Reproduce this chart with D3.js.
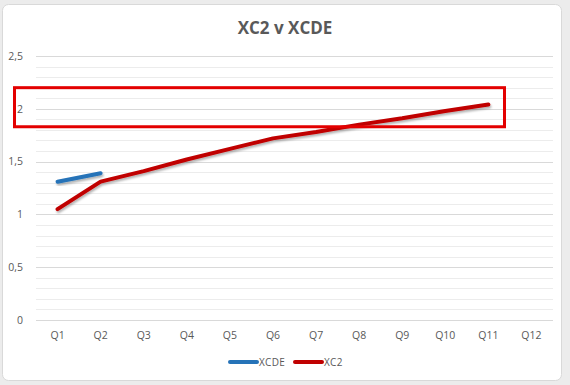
<!DOCTYPE html>
<html>
<head>
<meta charset="utf-8">
<script src="https://cdn.jsdelivr.net/npm/d3@7"></script>
<style>
  body { margin: 0; background: #ececec; }
  svg { display: block; }
  text { font-family: "Open Sans", "DejaVu Sans", sans-serif; fill: #595959; }
</style>
</head>
<body>
<script>
var categories = ["Q1","Q2","Q3","Q4","Q5","Q6","Q7","Q8","Q9","Q10","Q11","Q12"];
var xcde = [1.31, 1.39, null, null, null, null, null, null, null, null, null, null];
var xc2 = [1.05, 1.31, 1.41, 1.52, 1.62, 1.72, 1.78, 1.85, 1.91, 1.98, 2.04, null];
var yTicks = [0, 0.5, 1, 1.5, 2, 2.5];
var highlight = [1.83, 2.2]; // value band marked by the red box

var width = 570, height = 385,
    margin = {top: 56, right: 17, bottom: 65, left: 36};

var svg = d3.select("body").append("svg")
    .attr("width", width)
    .attr("height", height);

var defs = svg.append("defs");
var f = defs.append("filter").attr("id", "shadow")
    .attr("x", "-10%").attr("y", "-50%").attr("width", "120%").attr("height", "200%");
f.append("feDropShadow").attr("dx", 1).attr("dy", 2).attr("stdDeviation", 1.2)
    .attr("flood-color", "#000").attr("flood-opacity", 0.3);

// card
svg.append("rect")
    .attr("x", 2.5).attr("y", 4.5)
    .attr("width", 559).attr("height", 376)
    .attr("rx", 6)
    .attr("fill", "#fff")
    .attr("stroke", "#d9d9d9");

var x = d3.scaleBand()
    .domain(categories)
    .range([margin.left, width - margin.right]);

var y = d3.scaleLinear()
    .domain([0, 2.5])
    .range([height - margin.bottom, margin.top]);

// minor grid
svg.append("g").selectAll("line")
    .data(d3.range(0, 26).map(function(i) { return i / 10; }))
  .enter().append("line")
    .attr("x1", margin.left).attr("x2", width - margin.right)
    .attr("y1", function(d) { return Math.round(y(d)) + 0.5; })
    .attr("y2", function(d) { return Math.round(y(d)) + 0.5; })
    .attr("stroke", "#ececec");

// major grid
svg.append("g").selectAll("line")
    .data(yTicks)
  .enter().append("line")
    .attr("x1", margin.left).attr("x2", width - margin.right)
    .attr("y1", function(d) { return Math.round(y(d)) + 0.5; })
    .attr("y2", function(d) { return Math.round(y(d)) + 0.5; })
    .attr("stroke", "#d9d9d9");

var fmt = function(d) { return String(d).replace(".", ","); };

var yAxis = svg.append("g")
    .attr("transform", "translate(" + (margin.left - 10) + ",0)")
    .call(d3.axisLeft(y).tickValues(yTicks).tickFormat(fmt).tickSize(0));
yAxis.select(".domain").remove();
yAxis.selectAll("text").style("font-size", "10.5px").attr("fill", "#595959");

var xAxis = svg.append("g")
    .attr("transform", "translate(0," + (height - margin.bottom + 9) + ")")
    .call(d3.axisBottom(x).tickSize(0));
xAxis.select(".domain").remove();
xAxis.selectAll("text").style("font-size", "10.5px").attr("fill", "#595959");

var line = d3.line()
    .defined(function(d) { return d != null; })
    .x(function(d, i) { return x(categories[i]) + x.bandwidth() / 2; })
    .y(function(d) { return y(d); });

var series = [
  {name: "XCDE", values: xcde, color: "#2673b8"},
  {name: "XC2", values: xc2, color: "#c00000"}
];

svg.append("g").selectAll("path")
    .data(series)
  .enter().append("path")
    .attr("d", function(d) { return line(d.values); })
    .attr("fill", "none")
    .attr("stroke", function(d) { return d.color; })
    .attr("stroke-width", 4)
    .attr("stroke-linecap", "round")
    .attr("stroke-linejoin", "round")
    .attr("filter", "url(#shadow)");

// title
svg.append("text")
    .attr("x", 285).attr("y", 34)
    .attr("text-anchor", "middle")
    .style("font-size", "17px")
    .style("font-weight", "bold")
    .text("XC2 v XCDE");

// legend
var legend = svg.append("g").selectAll("g")
    .data(series)
  .enter().append("g")
    .attr("transform", function(d, i) { return "translate(" + (230 + i * 65) + ",362)"; });
legend.append("line")
    .attr("x1", 0).attr("x2", 27)
    .attr("stroke", function(d) { return d.color; })
    .attr("stroke-width", 4)
    .attr("stroke-linecap", "round");
legend.append("text")
    .attr("x", 29).attr("dy", "0.35em")
    .style("font-size", "10px")
    .style("letter-spacing", "0.3px")
    .text(function(d) { return d.name; });

// highlight box
svg.append("rect")
    .attr("x", 14.5)
    .attr("y", y(highlight[1]))
    .attr("width", 490)
    .attr("height", y(highlight[0]) - y(highlight[1]))
    .attr("fill", "none")
    .attr("stroke", "#e30000")
    .attr("stroke-width", 3);
</script>
</body>
</html>
